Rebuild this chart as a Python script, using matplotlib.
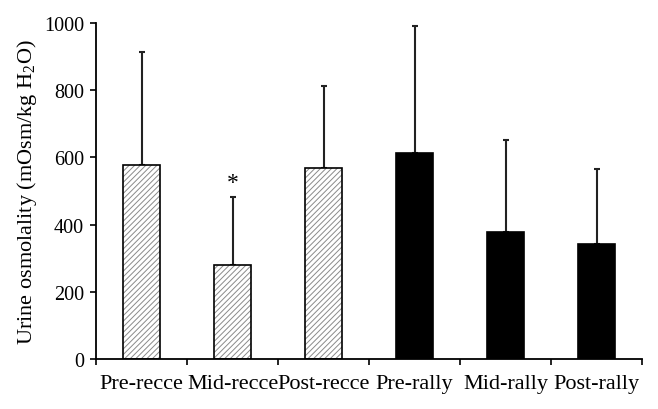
import numpy as np
import matplotlib
matplotlib.use('Agg')
import matplotlib.pyplot as plt

# values
groups = ['Pre-recce', 'Mid-recce', 'Post-recce', 'Pre-rally', 'Mid-rally', 'Post-rally']
means = [578, 279, 567, 613, 379, 343]
sd_up = [335, 203, 244, 377, 272, 223]
hatched = [True, True, True, False, False, False]

plt.rcParams['font.family'] = 'Liberation Serif'
plt.rcParams['mathtext.fontset'] = 'custom'
plt.rcParams['mathtext.rm'] = 'Liberation Serif'
plt.rcParams['hatch.linewidth'] = 0.7

fig = plt.figure(figsize=(6.58, 4.10), dpi=100)
ax = fig.add_axes([0.1459, 0.122, 0.8298, 0.8195])

x = np.arange(len(groups))
w = 0.41

# fill / hatch layer
for i in x:
	if hatched[i]:
		ax.bar(i, means[i], w, color='white', edgecolor='#8a8a8a', hatch='//////', linewidth=0, zorder=2)
	else:
		ax.bar(i, means[i], w, color='black', linewidth=0, zorder=2)
# outlines
ax.bar(x, means, w, fill=False, edgecolor='black', linewidth=1.2, zorder=3)

# one-sided error bars
ax.errorbar(x, means, yerr=[np.zeros(len(x)), sd_up], fmt='none', ecolor='#222222',
	elinewidth=1.5, capsize=2.5, capthick=1.5, zorder=1)

ax.text(1, means[1] + sd_up[1] + 12, '*', ha='center', va='bottom', fontsize=17)

ax.set_xlim(-0.5, 5.5)
ax.set_ylim(0, 1000)
ax.set_yticks(range(0, 1001, 200))
ax.set_xticks(np.arange(-0.5, 6, 1))
ax.set_xticklabels([])
ax.set_xticks(x, minor=True)
ax.set_xticklabels(groups, minor=True)
ax.tick_params(axis='x', which='minor', length=0, pad=11, labelsize=16)
ax.tick_params(axis='x', which='major', length=4, width=1.2, direction='out')
ax.tick_params(axis='y', length=4, width=1.2, direction='out', labelsize=14.5, pad=4.5)

for s in ['top', 'right']:
	ax.spines[s].set_visible(False)
for s in ['left', 'bottom']:
	ax.spines[s].set_linewidth(1.3)

ax.set_ylabel('Urine osmolality (mOsm/kg H$_2$O)', fontsize=16, labelpad=4)

fig.savefig('out.png', dpi=100)
